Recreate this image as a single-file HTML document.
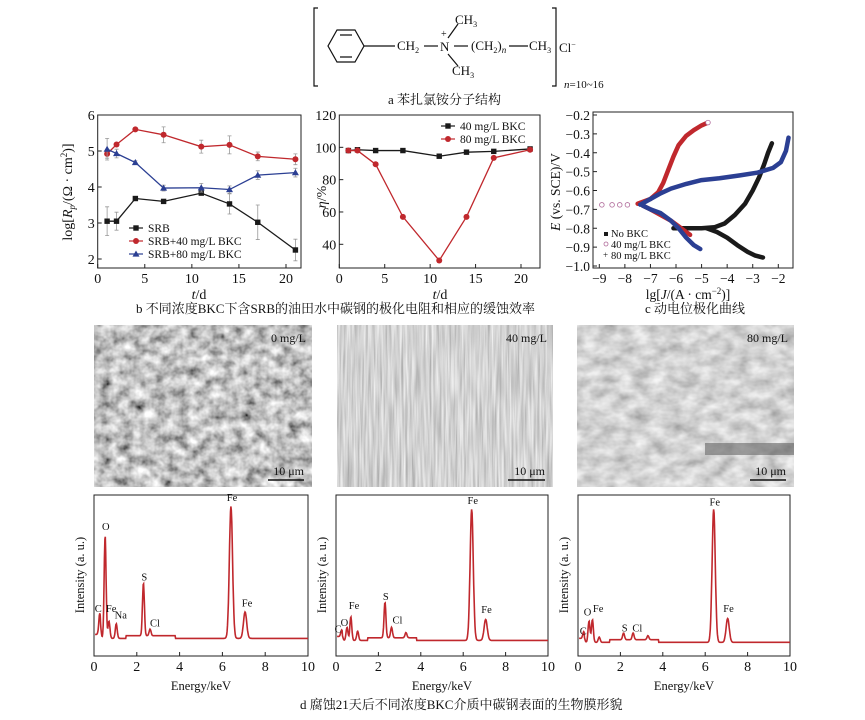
<!DOCTYPE html>
<html><head><meta charset="utf-8">
<style>
html,body{margin:0;padding:0;background:#fff;}
svg{display:block;}
text{font-family:"Liberation Serif","Noto Serif CJK SC",serif;fill:#111;}
.cn{font-family:"Liberation Serif","Noto Serif CJK SC","Noto Sans CJK SC",serif;}
</style></head>
<body>
<svg id="fig" width="865" height="720" viewBox="0 0 865 720" xmlns="http://www.w3.org/2000/svg">
<defs>
<filter id="semA" x="0" y="0" width="100%" height="100%"><feTurbulence type="fractalNoise" baseFrequency="0.09" numOctaves="3" seed="3"/><feColorMatrix type="saturate" values="0"/><feComponentTransfer><feFuncR type="linear" slope="1.7" intercept="-0.3"/><feFuncG type="linear" slope="1.7" intercept="-0.3"/><feFuncB type="linear" slope="1.7" intercept="-0.3"/><feFuncA type="linear" slope="0" intercept="1"/></feComponentTransfer></filter>
<filter id="semB" x="0" y="0" width="100%" height="100%"><feTurbulence type="fractalNoise" baseFrequency="0.5 0.02" numOctaves="2" seed="5"/><feColorMatrix type="saturate" values="0"/><feComponentTransfer><feFuncR type="linear" slope="0.9" intercept="0.2"/><feFuncG type="linear" slope="0.9" intercept="0.2"/><feFuncB type="linear" slope="0.9" intercept="0.2"/><feFuncA type="linear" slope="0" intercept="1"/></feComponentTransfer></filter>
<filter id="semC" x="0" y="0" width="100%" height="100%"><feTurbulence type="fractalNoise" baseFrequency="0.06 0.09" numOctaves="3" seed="9"/><feColorMatrix type="saturate" values="0"/><feComponentTransfer><feFuncR type="linear" slope="0.9" intercept="0.2"/><feFuncG type="linear" slope="0.9" intercept="0.2"/><feFuncB type="linear" slope="0.9" intercept="0.2"/><feFuncA type="linear" slope="0" intercept="1"/></feComponentTransfer></filter>
</defs>

<!-- structure -->
<g stroke="#111" fill="none" stroke-width="1.2">
  <path d="M318,8 h-4 v78 h4 M552,8 h4 v78 h-4"/>
  <polygon points="337,30 355,30 364,46 355,62 337,62 328,46"/>
  <path d="M340,35 h12 M340,57 h12"/>
  <line x1="364" y1="46" x2="395" y2="46"/>
  <line x1="424" y1="46" x2="438" y2="46"/>
  <line x1="454" y1="46" x2="468" y2="46"/>
  <line x1="448" y1="38" x2="458" y2="24"/>
  <line x1="448" y1="54" x2="458" y2="66"/>
  <line x1="509" y1="46" x2="528" y2="46"/>
</g>
<g font-size="13">
  <text x="397" y="50">CH<tspan font-size="8" dy="3">2</tspan></text>
  <text x="440" y="51">N</text>
  <text x="441" y="37" font-size="10">+</text>
  <text x="455" y="24">CH<tspan font-size="8" dy="3">3</tspan></text>
  <text x="452" y="75">CH<tspan font-size="8" dy="3">3</tspan></text>
  <text x="471" y="50">(CH<tspan font-size="8" dy="3">2</tspan><tspan dy="-3">)</tspan><tspan font-size="9" font-style="italic" dy="3">n</tspan></text>
  <text x="529" y="50">CH<tspan font-size="8" dy="3">3</tspan></text>
  <text x="559" y="52">Cl<tspan font-size="8" dy="-5">−</tspan></text>
  <text x="564" y="88" font-size="11"><tspan font-style="italic">n</tspan>=10~16</text>
</g>
<text class="cn" x="388" y="104" font-size="13">a  苯扎氯铵分子结构</text>
<text class="cn" x="136" y="313" font-size="13">b  不同浓度BKC下含SRB的油田水中碳钢的极化电阻和相应的缓蚀效率</text>
<text class="cn" x="645" y="313" font-size="13">c  动电位极化曲线</text>
<text class="cn" x="300" y="709" font-size="13">d  腐蚀21天后不同浓度BKC介质中碳钢表面的生物膜形貌</text>

<!-- SEM -->
<g><rect x="94" y="325" width="218" height="162" filter="url(#semA)"/><text x="306" y="342" font-size="12" text-anchor="end" fill="#fff">0 mg/L</text><text x="304" y="475" font-size="12" text-anchor="end">10 μm</text><line x1="268" y1="480" x2="304" y2="480" stroke="#111" stroke-width="1.5"/></g>
<g><rect x="337" y="325" width="216" height="162" filter="url(#semB)"/><text x="547" y="342" font-size="12" text-anchor="end">40 mg/L</text><text x="545" y="475" font-size="12" text-anchor="end">10 μm</text><line x1="508" y1="480" x2="545" y2="480" stroke="#111" stroke-width="1.5"/></g>
<g><rect x="577" y="325" width="217" height="162" filter="url(#semC)"/><rect x="705" y="443" width="89" height="12" fill="#666" opacity="0.6"/><text x="788" y="342" font-size="12" text-anchor="end">80 mg/L</text><text x="786" y="475" font-size="12" text-anchor="end">10 μm</text><line x1="750" y1="480" x2="786" y2="480" stroke="#111" stroke-width="1.5"/></g>

<g id="plots"></g>
</svg>
<script>
// ---- data ----
const days = [1,2,4,7,11,14,17,21];
const rpSRB = [3.05,3.05,3.68,3.6,3.83,3.53,3.02,2.25];
const rp40 = [4.92,5.18,5.6,5.45,5.12,5.17,4.85,4.77];
const rp80 = [5.05,4.93,4.68,3.97,3.98,3.93,4.33,4.4];
const errSRB = [0.4,0.25,0.05,0.05,0.05,0.28,0.48,0.3];
const err40 = [0.12,0.05,0.05,0.22,0.18,0.25,0.12,0.15];
const err80 = [0.3,0.12,0.05,0.08,0.12,0.1,0.12,0.12];
const eta40 = [98,98.5,98,98,94.5,97,97.5,99];
const eta80 = [98,98,89.5,57,30,57,93.5,98.5];
const pol40A_J = [-8.6,-8,-7.5,-7,-6.7,-6.5,-6.3,-6.1,-5.9,-5.6,-5.3,-5,-4.75];
const pol40A_E = [-0.675,-0.675,-0.67,-0.645,-0.61,-0.56,-0.49,-0.42,-0.36,-0.31,-0.28,-0.255,-0.24];
const pol40C_J = [-7.3,-7,-6.6,-6.2,-5.9,-5.6,-5.45];
const pol40C_E = [-0.68,-0.7,-0.73,-0.76,-0.79,-0.82,-0.835];
const pol80A_J = [-7.4,-7,-6.6,-6.2,-5.6,-5,-4.3,-3.5,-2.8,-2.2,-1.9,-1.7,-1.6];
const pol80A_E = [-0.675,-0.645,-0.615,-0.59,-0.565,-0.545,-0.535,-0.52,-0.505,-0.48,-0.45,-0.39,-0.32];
const pol80C_J = [-7.3,-7,-6.6,-6.2,-5.9,-5.6,-5.3,-5.05];
const pol80C_E = [-0.68,-0.7,-0.72,-0.76,-0.8,-0.85,-0.89,-0.91];
const polNoA_J = [-6.1,-5.5,-5,-4.5,-4.1,-3.7,-3.3,-3,-2.75,-2.55,-2.4,-2.25];
const polNoA_E = [-0.8,-0.8,-0.8,-0.795,-0.775,-0.73,-0.67,-0.6,-0.53,-0.46,-0.4,-0.35];
const polNoC_J = [-4.8,-4.4,-4,-3.6,-3.2,-2.9,-2.6];
const polNoC_E = [-0.8,-0.82,-0.85,-0.89,-0.925,-0.945,-0.955];
const edsE1 = [0.27,0.52,0.7,1.04,2.31,2.62,6.4,7.06];
const edsH1 = [0.16,0.78,0.13,0.11,0.4,0.05,1.0,0.2];
const edsE2 = [0.27,0.52,0.7,1.02,2.31,2.62,3.3,6.4,7.06];
const edsH2 = [0.05,0.1,0.18,0.07,0.27,0.08,0.04,1.0,0.16];
const edsE3 = [0.27,0.52,0.68,1.0,2.15,2.6,3.3,6.4,7.06];
const edsH3 = [0.05,0.16,0.17,0.04,0.05,0.05,0.03,1.0,0.18];
const edsTicks = [0,2,4,6,8,10];

const NS='http://www.w3.org/2000/svg';
const root=document.getElementById('plots');
function mk(tag,attrs,parent,txt){const e=document.createElementNS(NS,tag);for(const k in attrs)e.setAttribute(k,attrs[k]);if(txt!==undefined)e.textContent=txt;(parent||root).appendChild(e);return e;}
function lin(d0,d1,r0,r1){return v=>r0+(v-d0)*(r1-r0)/(d1-d0);}

function frame(x0,y0,x1,y1,name){const r=mk('rect',{x:x0,y:y0,width:x1-x0,height:y1-y0,fill:'none',stroke:'#222','stroke-width':1});

}
function xticks(vals,sx,yb,fs){vals.forEach(v=>{mk('line',{x1:sx(v),x2:sx(v),y1:yb,y2:yb-4,stroke:'#222'});const t=mk('text',{x:sx(v),y:yb+15,'font-size':fs||14,'text-anchor':'middle'},root,String(v).replace('-','−'));

});}
function yticks(vals,sy,xl,fmt,fs){vals.forEach(v=>{mk('line',{x1:xl,x2:xl+4,y1:sy(v),y2:sy(v),stroke:'#222'});const t=mk('text',{x:xl-3,y:sy(v)+5,'font-size':fs||14,'text-anchor':'end'},root,fmt?fmt(v):String(v));

});}
function marker(type,x,y,col){if(type==='s')return mk('rect',{x:x-2.7,y:y-2.7,width:5.4,height:5.4,fill:col});if(type==='c')return mk('circle',{cx:x,cy:y,r:3,fill:col});return mk('polygon',{points:`${x},${y-3.5} ${x+3.5},${y+2.6} ${x-3.5},${y+2.6}`,fill:col});}
function series(xs,ys,sx,sy,col,type,name,err){
  if(err)xs.forEach((x,i)=>{const X=sx(x);mk('path',{d:`M${X},${sy(ys[i]-err[i])}V${sy(ys[i]+err[i])}M${X-2},${sy(ys[i]-err[i])}h4M${X-2},${sy(ys[i]+err[i])}h4`,stroke:'#999','stroke-width':0.8,fill:'none'});});
  const p=mk('polyline',{points:xs.map((x,i)=>sx(x)+','+sy(ys[i])).join(' '),fill:'none',stroke:col,'stroke-width':1.3});
  
  
  xs.forEach((x,i)=>{const m=marker(type,sx(x),sy(ys[i]),col);
  
  });
}
function legend(x,y,col,type,label){mk('line',{x1:x,x2:x+14,y1:y,y2:y,stroke:col,'stroke-width':1.2});marker(type,x+7,y,col);const t=mk('text',{x:x+19,y:y+4,'font-size':11.5},root,label);

}

const RED='#c0282d',BLUE='#2b3f93',BLK='#1a1a1a';

// ---- chart b1 ----
{const sx=lin(0,20,97.7,286),sy=lin(2,6,259,115);
frame(97.7,115,301,268,'rp-plot-frame');
xticks([0,5,10,15,20],sx,268);yticks([2,3,4,5,6],sy,97.7);
series(days,rpSRB,sx,sy,BLK,'s','series-srb',errSRB);
series(days,rp40,sx,sy,RED,'c','series-srb-40',err40);
series(days,rp80,sx,sy,BLUE,'t','series-srb-80',err80);
legend(129,228,BLK,'s','SRB');legend(129,241,RED,'c','SRB+40 mg/L BKC');legend(129,254,BLUE,'t','SRB+80 mg/L BKC');
const t=mk('text',{transform:'translate(72,192) rotate(-90)','font-size':14,'text-anchor':'middle'},root);t.innerHTML='log[<tspan font-style="italic">R</tspan><tspan font-size="9" dy="3" font-style="italic">p</tspan><tspan dy="-3">/(Ω · cm</tspan><tspan font-size="9" dy="-5">2</tspan><tspan dy="5">)]</tspan>';


const xt=mk('text',{x:199,y:299,'font-size':14,'text-anchor':'middle'},root);xt.innerHTML='<tspan font-style="italic">t</tspan>/d';

}

// ---- chart b2 ----
{const sx=lin(0,20,339.3,521),sy=lin(40,120,244.3,115);
frame(339.3,115,540,268,'eta-plot-frame');
xticks([0,5,10,15,20],sx,268);yticks([40,60,80,100,120],sy,339.3);
series(days,eta40,sx,sy,BLK,'s','series-eta-40');
series(days,eta80,sx,sy,RED,'c','series-eta-80');
legend(441,126,BLK,'s','40 mg/L BKC');legend(441,139,RED,'c','80 mg/L BKC');
const t=mk('text',{transform:'translate(326,197) rotate(-90)','font-size':14,'text-anchor':'middle'},root);t.innerHTML='<tspan font-style="italic">η</tspan>/%';


const xt=mk('text',{x:440,y:299,'font-size':14,'text-anchor':'middle'},root);xt.innerHTML='<tspan font-style="italic">t</tspan>/d';

}

// ---- chart c ----
{const sx=lin(-9,-2,599.3,778.3),sy=lin(-0.2,-1.0,115,266);
frame(593,112,793,268,'polarization-plot-frame');
xticks([-9,-8,-7,-6,-5,-4,-3,-2],sx,268,13.5);
yticks([-0.2,-0.3,-0.4,-0.5,-0.6,-0.7,-0.8,-0.9,-1.0],sy,593,v=>('−'+Math.abs(v).toFixed(1)),13.5);
function curve(J,E,col,name){const p=mk('polyline',{points:J.map((j,i)=>sx(j)+','+sy(E[i])).join(' '),fill:'none',stroke:col,'stroke-width':4.5,'stroke-linejoin':'round','stroke-linecap':'round'});

}
curve(polNoA_J,polNoA_E,BLK,'curve-no-bkc-anodic');curve(polNoC_J,polNoC_E,BLK,'curve-no-bkc-cathodic');
curve(pol40A_J.slice(2),pol40A_E.slice(2),RED,'curve-40-anodic');curve(pol40C_J,pol40C_E,RED,'curve-40-cathodic');
curve(pol80A_J,pol80A_E,BLUE,'curve-80-anodic');curve(pol80C_J,pol80C_E,BLUE,'curve-80-cathodic');
[-8.9,-8.5,-8.2,-7.9].forEach(j=>mk('circle',{cx:sx(j),cy:sy(-0.676),r:2.3,fill:'none',stroke:'#b06a9a','stroke-width':0.8}));
mk('circle',{cx:sx(-4.75),cy:sy(-0.24),r:2.3,fill:'#fff',stroke:'#b06a9a','stroke-width':0.8});
mk('rect',{x:604,y:232,width:4,height:4,fill:BLK});
mk('circle',{cx:606,cy:244,r:2,fill:'none',stroke:'#b06a9a','stroke-width':0.8});
mk('text',{x:603,y:258,'font-size':9},root,'+');
[['No BKC',237],['40 mg/L BKC',248],['80 mg/L BKC',259]].forEach(a=>{const t=mk('text',{x:611,y:a[1],'font-size':10.5},root,a[0]);

});
const t=mk('text',{transform:'translate(560,192) rotate(-90)','font-size':13.5,'text-anchor':'middle'},root);t.innerHTML='<tspan font-style="italic">E</tspan> (vs. SCE)/V';


const xt=mk('text',{x:688,y:299,'font-size':13.5,'text-anchor':'middle'},root);xt.innerHTML='lg[<tspan font-style="italic">J</tspan>/(A · cm<tspan font-size="9" dy="-5">−2</tspan><tspan dy="5">)]</tspan>';

}

// ---- EDS ----
function eds(x0,x1,base,top,E,H,labels,name){
  const sx=lin(0,10,x0,x1),sy=lin(0,1,base,top);
  frame(x0,495,x1,656,name+'-frame');
  xticks(edsTicks,sx,656);
  let pts=[];
  for(let i=0;i<=500;i++){const e=0.05+i*9.95/500;let v=0.02+(e>1.5&&e<3.8?0.02:0)+(e<0.3?0.03:0);
    E.forEach((c,k)=>{const w=c>5?0.075:0.045;v+=H[k]*Math.exp(-((e-c)*(e-c))/(2*w*w));});
    pts.push(sx(e).toFixed(1)+','+sy(v).toFixed(1));}
  const p=mk('polyline',{points:pts.join(' '),fill:'none',stroke:RED,'stroke-width':1.6});
  
  
  labels.forEach(l=>{const t=mk('text',{x:sx(l[0]),y:sy(l[1]),'font-size':10.5,'text-anchor':'middle'},root,l[2]);
  
  });
  const yt=mk('text',{transform:`translate(${x0-10},575) rotate(-90)`,'font-size':12.5,'text-anchor':'middle'},root,'Intensity (a. u.)');
  
  
  const xt=mk('text',{x:(x0+x1)/2,y:690,'font-size':12.5,'text-anchor':'middle'},root,'Energy/keV');
  
  
}
eds(94,308,641,509,edsE1,edsH1,[[0.2,0.22,'C'],[0.55,0.84,'O'],[0.8,0.22,'Fe'],[1.25,0.17,'Na'],[2.35,0.46,'S'],[2.85,0.11,'Cl'],[6.45,1.06,'Fe'],[7.15,0.26,'Fe']],'eds-0');
eds(336,548,643,512,edsE2,edsH2,[[0.1,0.08,'C'],[0.4,0.13,'O'],[0.85,0.26,'Fe'],[2.35,0.33,'S'],[2.9,0.15,'Cl'],[6.45,1.06,'Fe'],[7.1,0.23,'Fe']],'eds-40');
eds(578,790,645,512,edsE3,edsH3,[[0.25,0.08,'C'],[0.45,0.22,'O'],[0.95,0.25,'Fe'],[2.2,0.1,'S'],[2.8,0.1,'Cl'],[6.45,1.05,'Fe'],[7.1,0.25,'Fe']],'eds-80');
</script>
</body></html>
